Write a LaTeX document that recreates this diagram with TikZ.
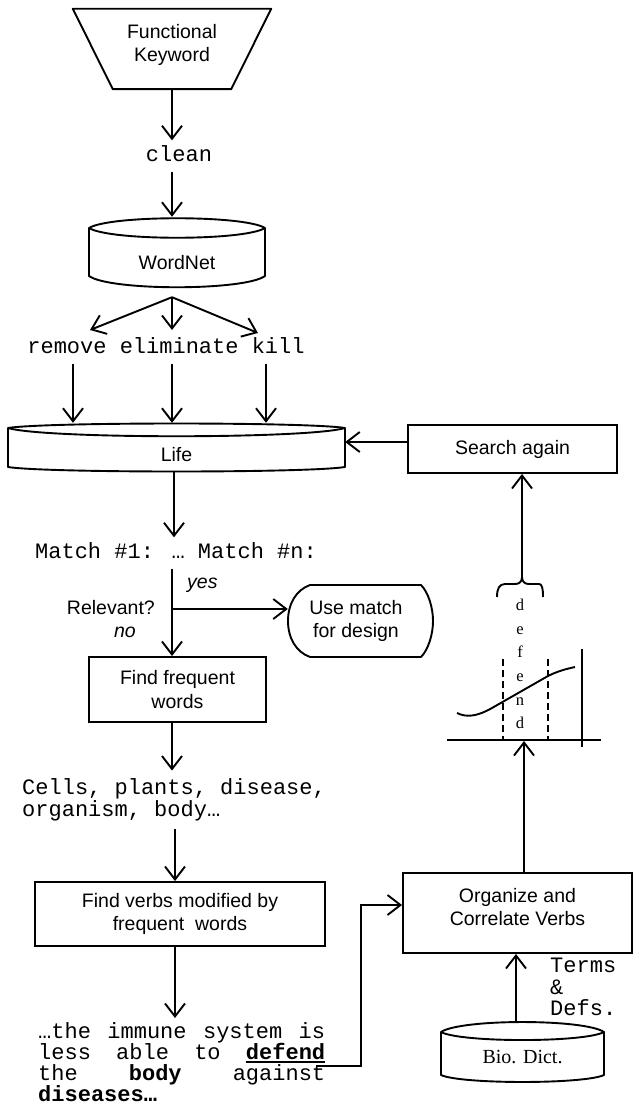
\documentclass[tikz,border=0pt]{standalone}
\usepackage{fontspec}
\setmainfont{Liberation Sans}
\newfontfamily\sansf{Liberation Sans}
\newfontfamily\monof{Liberation Mono}
\newfontfamily\serff{Liberation Serif}
\usetikzlibrary{arrows.meta,calc}
\newsavebox\ulbox
\newcommand\myul[1]{\sbox\ulbox{#1}\rlap{\rule[-3.5pt]{\wd\ulbox}{1.8pt}}\usebox\ulbox}
\newcommand\jline[1]{\leavevmode\hbox to 287pt{#1}}
\tikzset{
 lw/.style={line width=1.9pt},
 outline/.style={line width=1.9pt, line join=round},
 flowarrow/.style={line width=1.9pt, -{Straight Barb[length=13pt,width=20pt]}},
 sanstxt/.style={font=\sansf\fontsize{19.5}{23.5}\selectfont, align=center},
 italtxt/.style={font=\sansf\itshape\fontsize{19.5}{23.5}\selectfont, inner sep=0pt},
 procbox/.style={sanstxt, draw, line width=1.9pt, inner sep=0pt},
 shapebox/.style={sanstxt, inner sep=0pt},
 monotxt/.style={font=\monof\fontsize{22}{22}\selectfont, text height=13pt, text depth=2pt, inner xsep=0pt, inner ysep=8pt},
 monopara/.style={font=\monof\fontsize{22}{22}\selectfont, align=left, inner xsep=0pt, inner ysep=8pt},
 serifbig/.style={font=\serff\fontsize{20}{24}\selectfont},
}
\begin{document}
\begin{tikzpicture}[x=1pt,y=-1pt]
\useasboundingbox (0,0) rectangle (634,1105);
% helper x positions of vertical connectors
\coordinate (xa) at (172,0);
\coordinate (xb) at (175,0);
\coordinate (xc) at (174,0);
\coordinate (xd) at (516,0);

% ---- Functional Keyword (trapezoid)
\node[shapebox, minimum width=198pt, minimum height=80pt] (kw) at (172,49) {Functional\\Keyword\rule[-12pt]{0pt}{12pt}};
\draw[outline] (kw.north west) -- (kw.north east) -- ($(kw.south east)+(-40,0)$) -- ($(kw.south west)+(40,0)$) -- cycle;

% ---- clean
\node[monotxt] (clean) at (179,156) {clean};
\draw[flowarrow] (kw.south -| xa) -- (clean.north -| xa);

% ---- WordNet cylinder
\node[shapebox, minimum width=176pt, minimum height=71pt] (wordnet) at (177,252.5) {\rule{0pt}{33.6pt}WordNet};
\draw[outline] (89,228) .. controls (110,215) and (244,215) .. (265,228)
  -- (265,276) .. controls (244,291) and (110,291) .. (89,276) -- cycle;
\draw[outline] (89,228) .. controls (110,241) and (244,241) .. (265,228);
\draw[flowarrow] (clean.south -| xa) -- (wordnet.north -| xa);

% ---- fan to synonyms
\coordinate (fan) at ($(wordnet.south -| xa)+(0,9)$);
\coordinate (rmtip) at (90,330);
\coordinate (eltip) at (172,330);
\coordinate (kltip) at (258,333);
\draw[flowarrow] (fan) -- (rmtip);
\draw[flowarrow] (fan) -- (eltip);
\draw[flowarrow] (fan) -- (kltip);
\node[monotxt] (syns) at (166,348) {remove eliminate kill};

% ---- Life
\node[shapebox, minimum width=337pt, minimum height=49pt] (life) at (176.5,447.5) {\rule{0pt}{27.6pt}Life};
\draw[outline] (8,428) .. controls (45,422) and (308,422) .. (345,428)
  -- (345,467) .. controls (308,473) and (45,473) .. (8,467) -- cycle;
\draw[outline] (8,428) .. controls (45,439) and (308,439) .. (345,428);
\coordinate (rmx) at (73,0);
\coordinate (elx) at (172,0);
\coordinate (klx) at (266,0);
\draw[flowarrow] (syns.south -| rmx) -- (life.north -| rmx);
\draw[flowarrow] (syns.south -| elx) -- (life.north -| elx);
\draw[flowarrow] (syns.south -| klx) -- (life.north -| klx);

% ---- Search again
\node[procbox, minimum width=209pt, minimum height=48pt] (search) at (512.5,449) {Search again};
\draw[flowarrow] ([yshift=7pt]search.west) -- ([yshift=7pt]search.west -| life.east);

% ---- Matches
\node[monotxt] (match) at (176,553) {Match \#1: … Match \#n:};
\draw[flowarrow] (life.south -| xc) -- (match.north -| xc);

% ---- decision
\node[shapebox, minimum width=136pt, minimum height=72pt] (usem) at (356,621) {Use match\\for design};
\draw[outline] (310,585) -- (421,585) .. controls (428,592) and (433,607) .. (433,621)
  .. controls (433,635) and (428,650) .. (421,657) -- (310,657)
  .. controls (296,652) and (288,638) .. (288,621) .. controls (288,604) and (296,590) .. (310,585) -- cycle;
\node[procbox, minimum width=177pt, minimum height=65pt] (freq) at (177.5,689.5) {Find frequent\\words};
\coordinate (relpt) at (172,609);
\draw[flowarrow] (match.south -| relpt) -- (freq.north -| relpt);
\draw[flowarrow] (relpt) -- (relpt -| usem.west);
\node[sanstxt, anchor=east, inner sep=0pt] (relq) at (155,608) {Relevant?};
\node[italtxt, anchor=west] (yeslbl) at (187,585) {yes};
\node[italtxt] (nolbl) at (125,632) {no};

% ---- frequent words
\node[monopara, anchor=west] (cells) at (22,800) {Cells, plants, disease,\\organism, body…};
\draw[flowarrow] (freq.south -| xa) -- (cells.north -| xa);

% ---- verbs
\node[procbox, minimum width=290pt, minimum height=64pt] (verbs) at (180,914) {Find verbs modified by\\frequent~ words};
\draw[flowarrow] (cells.south -| xb) -- (verbs.north -| xb);

% ---- paragraph
\node[monopara, font=\monof\fontsize{22}{21}\selectfont, anchor=north west, text width=287pt, inner ysep=4pt] (para) at (38,1018) {%
\jline{…the\hfill immune\hfill system\hfill is}\\
\jline{less\hfill able\hfill to\hfill \myul{\textbf{defend}}}\\
\jline{the\hfill \textbf{body}\hfill against}\\
\textbf{diseases…}};
\draw[flowarrow] (verbs.south -| xb) -- (para.north -| xb);

% ---- Organize
\node[procbox, minimum width=229pt, minimum height=80pt] (org) at (517.5,913) {Organize and\\Correlate Verbs\rule[-12pt]{0pt}{12pt}};
\coordinate (defendpt) at (316,1066);
\coordinate (bendpt) at (361,905);
\draw[flowarrow] (defendpt) -| (bendpt) -- (bendpt -| org.west);

% ---- Bio Dict
\node[shapebox, serifbig, minimum width=163pt, minimum height=60pt] (bio) at (522.5,1052) {\rule{0pt}{23.7pt}Bio. Dict.};
\draw[outline] (441,1032) .. controls (461,1018.7) and (584,1018.7) .. (604,1032)
  -- (604,1075) .. controls (584,1084.3) and (461,1084.3) .. (441,1075) -- cycle;
\draw[outline] (441,1032) .. controls (461,1042.7) and (584,1042.7) .. (604,1032);
\draw[flowarrow] (bio.north -| xd) -- (org.south -| xd);
\node[font=\monof\fontsize{22}{21.5}\selectfont, align=left, anchor=west, inner sep=0pt] (terms) at (550,987) {Terms\\\&\\Defs.};

% ---- graph
\coordinate (axisin) at (524,741);
\draw[flowarrow] (org.north -| axisin) -- (axisin);
\draw[lw] (447,740) -- (601,740);
\draw[lw] (582,649) -- (582,747);
\draw[lw, dash pattern=on 7pt off 4pt] (503,659) -- (503,740);
\draw[lw, dash pattern=on 7pt off 4pt] (548,659) -- (548,740);
\draw[lw] (457,713) .. controls (467,718) and (478,716) .. (492,708) -- (548,676) .. controls (558,671) and (566,669) .. (575,667);
\node[font=\serff\fontsize{16.5}{23.6}\selectfont, align=center, inner sep=0pt] (deftxt) at (520,664) {d\\e\\f\\e\\n\\d};

% ---- brace
\coordinate (bracetip) at (522,577);
\draw[lw] (497,597) .. controls (497,589) and (499,584) .. (505,584) -- (515,584)
  .. controls (519,584) and (522,582) .. (bracetip)
  .. controls (522,582) and (525,584) .. (529,584) -- (539,584)
  .. controls (542,584) and (543,588) .. (543,597);
\draw[flowarrow] (bracetip) -- (bracetip |- search.south);
\end{tikzpicture}
\end{document}
